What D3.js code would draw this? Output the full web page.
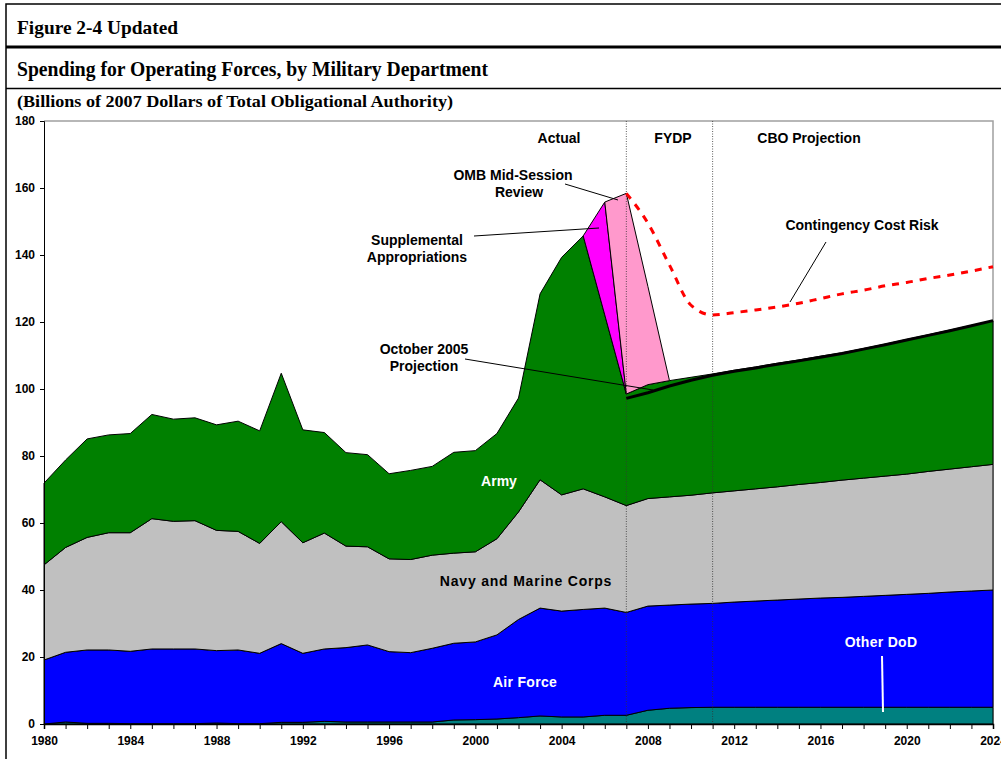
<!DOCTYPE html>
<html>
<head>
<meta charset="utf-8">
<script src="https://cdn.jsdelivr.net/npm/d3@7"></script>
<style>
  body { margin: 0; background: #fff; }
  svg { display: block; font-family: "Liberation Sans", Arial, sans-serif; }
  .ttl { font-family: "Liberation Serif", "Times New Roman", serif; font-weight: bold; }
  .note { font-size: 14px; font-weight: bold; fill: #000; }
  .axis text { font-size: 12px; font-weight: bold; font-family: "Liberation Sans", Arial, sans-serif; fill: #000; }
</style>
</head>
<body>
<script>
var years = d3.range(1980, 2025);

// billions of 2007 dollars, one value per year 1980-2024
var otherDoD = [0, 0.6, 0.2, 0.2, 0.1, 0.1, 0.1, 0.1, 0.3, 0.1,
  0.1, 0.5, 0.5, 0.8, 0.6, 0.6, 0.6, 0.6, 0.6, 1.2,
  1.3, 1.5, 1.9, 2.4, 2.1, 2.1, 2.6, 2.6, 4.1, 4.7,
  4.9, 5.0, 5.0, 5.0, 5.0, 5.0, 5.0, 5.0, 5.0, 5.0,
  5.0, 5.0, 5.0, 5.0, 5.0];
var airForce = [19.1, 20.8, 21.9, 21.9, 21.6, 22.3, 22.3, 22.3, 21.6, 22.0,
  21.0, 23.5, 20.6, 21.6, 22.2, 23.0, 21.0, 20.7, 22.0, 22.9,
  23.2, 25.1, 29.3, 32.2, 31.6, 32.1, 32.0, 30.7, 31.1, 30.8,
  30.9, 31.0, 31.4, 31.7, 32.0, 32.3, 32.6, 32.8, 33.1, 33.4,
  33.7, 34.0, 34.4, 34.7, 35.0];
var navy = [28.4, 31.3, 33.6, 35.0, 35.4, 38.9, 38.1, 38.3, 35.9, 35.4,
  32.8, 36.4, 33.0, 34.6, 30.3, 29.3, 27.7, 27.8, 27.8, 26.9,
  26.9, 28.7, 32.1, 38.3, 34.7, 36.0, 33.2, 31.9, 32.1, 32.3,
  32.5, 33.0, 33.2, 33.5, 33.8, 34.2, 34.5, 35.0, 35.3, 35.6,
  35.9, 36.4, 36.7, 37.1, 37.5];
var army = [24.4, 26.1, 29.4, 29.2, 29.6, 31.1, 30.5, 30.7, 31.5, 32.9,
  33.6, 44.3, 33.7, 30.0, 27.9, 27.5, 25.4, 26.6, 26.5, 30.1,
  30.2, 31.4, 34.0, 55.5, 70.9, 75.5, 54.3, 33.3, 34.0, 34.7,
  35.2, 35.5, 36.0, 36.4, 36.9, 37.2, 37.7, 38.0, 38.7, 39.4,
  40.2, 40.8, 41.5, 42.2, 42.9];
var supplemental = [0, 33.7, 0];          // 2005-2007
var suppYears = [2005, 2006, 2007];
var omb = [0, 59.9, 29.3, 0];             // 2006-2009
var ombYears = [2006, 2007, 2008, 2009];

var projYears = d3.range(2007, 2025);
var oct2005 = [97.2, 98.9, 100.9, 102.6, 104.1, 105.3, 106.3, 107.4, 108.4, 109.5,
  110.6, 111.9, 113.2, 114.6, 116.0, 117.4, 118.9, 120.4];
var contingency = [158.4, 149.5, 137.0, 125.0, 122.1, 122.8, 123.6, 124.5, 125.6, 127.0,
  128.4, 129.5, 130.8, 131.8, 133.0, 134.0, 135.2, 136.5];

var yTicks = d3.range(0, 181, 20);
var xLabels = d3.range(1980, 2025, 4);

var width = 1001,
    height = 759;

var svg = d3.select("body").append("svg")
    .attr("width", width)
    .attr("height", height);

// frame and title rows
svg.append("rect").attr("x", 6).attr("y", 4).attr("width", 1000).attr("height", 800)
    .attr("fill", "none").attr("stroke", "#000").attr("stroke-width", 1.5);
svg.append("line").attr("x1", 6).attr("x2", width).attr("y1", 47).attr("y2", 47)
    .attr("stroke", "#000").attr("stroke-width", 3);
svg.append("line").attr("x1", 6).attr("x2", width).attr("y1", 88.5).attr("y2", 88.5)
    .attr("stroke", "#000").attr("stroke-width", 1.5);

svg.append("text").attr("class", "ttl").attr("x", 17).attr("y", 34)
    .style("font-size", "19px")
    .attr("textLength", 161).attr("lengthAdjust", "spacingAndGlyphs")
    .text("Figure 2-4 Updated");
svg.append("text").attr("class", "ttl").attr("x", 17).attr("y", 76)
    .style("font-size", "20.5px")
    .attr("textLength", 471).attr("lengthAdjust", "spacingAndGlyphs")
    .text("Spending for Operating Forces, by Military Department");
svg.append("text").attr("class", "ttl").attr("x", 17).attr("y", 107)
    .style("font-size", "16px")
    .attr("textLength", 436).attr("lengthAdjust", "spacingAndGlyphs")
    .text("(Billions of 2007 Dollars of Total Obligational Authority)");

var x = d3.scaleLinear().domain([1980, 2024]).range([44, 993]);
var y = d3.scaleLinear().domain([0, 180]).range([724, 121]);

// plot border (top/right in gray)
svg.append("path")
    .attr("d", "M" + x(1980) + "," + y(180) + "H" + x(2024) + "V" + y(0))
    .attr("fill", "none").attr("stroke", "#a0a0a0").attr("stroke-width", 1.5);

// stacked table
var keys = ["other", "airForce", "navy", "army", "supp", "omb"];
var table = years.map(function(yr, i) {
  var si = suppYears.indexOf(yr), oi = ombYears.indexOf(yr);
  return {
    year: yr,
    other: otherDoD[i],
    airForce: airForce[i],
    navy: navy[i],
    army: army[i],
    supp: si < 0 ? 0 : supplemental[si],
    omb: oi < 0 ? 0 : omb[oi]
  };
});

var stack = d3.stack().keys(keys);
var series = stack(table);

var colors = {
  other: "#008080",
  airForce: "#0000ff",
  navy: "#c0c0c0",
  army: "#008000",
  supp: "#ff00ff",
  omb: "#ff99cc"
};

var ranges = {
  supp: [2005, 2007],
  omb: [2006, 2009]
};

var area = d3.area()
    .x(function(d) { return x(d.data.year); })
    .y0(function(d) { return y(d[0]); })
    .y1(function(d) { return y(d[1]); });

svg.append("g").attr("class", "layers")
  .selectAll("path").data(series)
  .enter().append("path")
    .attr("fill", function(d) { return colors[d.key]; })
    .attr("stroke", "#000")
    .attr("stroke-width", 1)
    .attr("stroke-linejoin", "round")
    .attr("d", function(s) {
      var r = ranges[s.key];
      if (!r) return area(s);
      return area.defined(function(d) { return d.data.year >= r[0] && d.data.year <= r[1]; })(s);
    });

// period separators
svg.append("g").selectAll("line").data([2007, 2011])
  .enter().append("line")
    .attr("x1", function(d) { return x(d); })
    .attr("x2", function(d) { return x(d); })
    .attr("y1", y(180))
    .attr("y2", y(0))
    .attr("stroke", "#333")
    .attr("stroke-width", 0.8)
    .attr("stroke-dasharray", "1,1.5");

var line = d3.line()
    .x(function(d, i) { return x(projYears[i]); })
    .y(function(d) { return y(d); });

svg.append("path")
    .datum(oct2005)
    .attr("fill", "none")
    .attr("stroke", "#000")
    .attr("stroke-width", 3)
    .attr("d", line);

svg.append("path")
    .datum(contingency)
    .attr("fill", "none")
    .attr("stroke", "#ff0000")
    .attr("stroke-width", 3)
    .attr("stroke-dasharray", "7,7")
    .attr("d", line.curve(d3.curveMonotoneX));

// axes
var yAxis = d3.axisLeft(y).tickValues(yTicks).tickSize(4).tickPadding(5);
svg.append("g").attr("class", "axis")
    .attr("transform", "translate(" + x(1980) + ",0)")
    .call(yAxis)
    .call(function(g) { g.selectAll("path, line").attr("stroke", "#000"); });

var xAxis = d3.axisBottom(x).tickValues(years).tickSize(5).tickPadding(7)
    .tickFormat(function(d) { return xLabels.indexOf(d) >= 0 ? d : ""; });
svg.append("g").attr("class", "axis")
    .attr("transform", "translate(0," + y(0) + ")")
    .call(xAxis)
    .call(function(g) {
      g.selectAll("path, line").attr("stroke", "#000");
      g.select(".domain").attr("stroke-width", 1.5);
    });

// annotations
var notes = [
  {t: "Actual", x: 559, y: 143},
  {t: "FYDP", x: 673, y: 143},
  {t: "CBO Projection", x: 809, y: 143},
  {t: "OMB Mid-Session", x: 513, y: 180},
  {t: "Review", x: 519, y: 197},
  {t: "Supplemental", x: 417, y: 245},
  {t: "Appropriations", x: 417, y: 262},
  {t: "October 2005", x: 424, y: 354},
  {t: "Projection", x: 424, y: 371},
  {t: "Contingency Cost Risk", x: 862, y: 230}
];
svg.append("g").selectAll("text").data(notes)
  .enter().append("text")
    .attr("class", "note")
    .attr("x", function(d) { return d.x; })
    .attr("y", function(d) { return d.y; })
    .attr("text-anchor", "middle")
    .text(function(d) { return d.t; });

var pointers = [
  [[565, 184], [618, 200]],
  [[474, 236], [599, 228]],
  [[465, 359], [653, 390]],
  [[826, 242], [790, 302]]
];
svg.append("g").selectAll("line").data(pointers)
  .enter().append("line")
    .attr("x1", function(d) { return d[0][0]; })
    .attr("y1", function(d) { return d[0][1]; })
    .attr("x2", function(d) { return d[1][0]; })
    .attr("y2", function(d) { return d[1][1]; })
    .attr("stroke", "#000")
    .attr("stroke-width", 1);

var inner = [
  {t: "Army", x: 499, y: 486, c: "#fff", ls: 0},
  {t: "Navy and Marine Corps", x: 526, y: 586, c: "#000", ls: 0.8},
  {t: "Air Force", x: 525, y: 687, c: "#fff", ls: 0.3},
  {t: "Other DoD", x: 881, y: 647, c: "#fff", ls: 0.3}
];
svg.append("g").selectAll("text").data(inner)
  .enter().append("text")
    .attr("class", "note")
    .attr("x", function(d) { return d.x; })
    .attr("y", function(d) { return d.y; })
    .attr("text-anchor", "middle")
    .style("fill", function(d) { return d.c; })
    .style("letter-spacing", function(d) { return d.ls + "px"; })
    .text(function(d) { return d.t; });

svg.append("line")
    .attr("x1", 882).attr("y1", 656).attr("x2", 883).attr("y2", 712)
    .attr("stroke", "#fff").attr("stroke-width", 2);
</script>
</body>
</html>
